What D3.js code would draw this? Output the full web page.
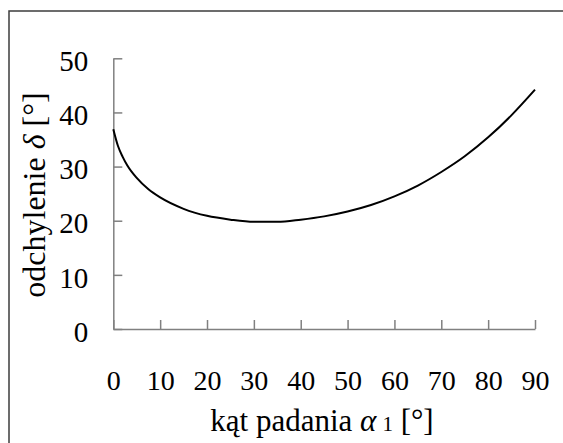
<!DOCTYPE html>
<html>
<head>
<meta charset="utf-8">
<script src="https://cdn.jsdelivr.net/npm/d3@7"></script>
<style>
  body { margin: 0; background: #fff; }
  svg { display: block; }
</style>
</head>
<body>
<svg id="chart" width="563" height="443"></svg>
<script>
// Kąt padania (deg) and odchylenie (deg)
const alpha = [0, 1, 2, 3, 5, 7.5, 10, 15, 20, 25, 30, 35, 40, 45, 50, 55, 60, 65, 70, 75, 80, 85, 90];
const delta = [36.9, 33.8, 31.8, 30.2, 27.9, 25.8, 24.3, 22.2, 20.9, 20.2, 19.8, 19.8, 20.2, 20.8, 21.7, 22.9, 24.5, 26.5, 29.0, 31.9, 35.4, 39.5, 44.2];

const xTicks = [0, 10, 20, 30, 40, 50, 60, 70, 80, 90];
const yTicks = [0, 10, 20, 30, 40, 50];

const svg = d3.select("#chart");
const font = '"Liberation Serif", serif';
const axisColor = "#808080";

// Outer frame (only top and left edges fall inside the picture)
svg.append("rect")
  .attr("x", 9)
  .attr("y", 11)
  .attr("width", 600)
  .attr("height", 500)
  .attr("fill", "none")
  .attr("stroke", "#3c3c3c")
  .attr("stroke-width", 1.5);

const x = d3.scaleLinear()
  .domain([0, 90])
  .range([113.3, 535]);

const y = d3.scaleLinear()
  .domain([0, 50])
  .range([329, 58.3]);

// Y axis, ticks point inwards
const yAxis = svg.append("g")
  .attr("transform", `translate(${x(0)}, 0)`)
  .call(d3.axisLeft(y).tickValues(yTicks).tickSize(-9).tickSizeOuter(0).tickPadding(25));

// X axis, ticks point upwards
const xAxis = svg.append("g")
  .attr("transform", `translate(0, ${y(0)})`)
  .call(d3.axisBottom(x).tickValues(xTicks).tickSize(-9).tickSizeOuter(0).tickPadding(41));

[xAxis, yAxis].forEach(g => {
  g.attr("font-family", "Liberation Serif");
  g.selectAll("path.domain, line")
    .attr("stroke", axisColor)
    .attr("stroke-width", 1.5);
  g.selectAll("text")
    .attr("fill", "#000")
    .style("font-family", font);
});

yAxis.selectAll("text")
  .attr("font-size", 29)
  .attr("dy", "0.42em");

xAxis.selectAll("text")
  .attr("font-size", 28)
  .attr("dy", "0.71em");

// The curve
const line = d3.line()
  .x((d, i) => x(alpha[i]))
  .y(d => y(d))
  .curve(d3.curveMonotoneX);

svg.append("path")
  .datum(delta)
  .attr("d", line)
  .attr("fill", "none")
  .attr("stroke", "#000")
  .attr("stroke-width", 2);

// Axis titles
const xTitle = svg.append("text")
  .attr("x", 322)
  .attr("y", 431)
  .attr("text-anchor", "middle")
  .attr("font-size", 31)
  .style("font-family", font);
xTitle.append("tspan").text("kąt padania ");
xTitle.append("tspan").attr("font-style", "italic").text("α");
xTitle.append("tspan").attr("font-size", 21).attr("dx", 6).text("1");
xTitle.append("tspan").text(" [°]");

const yTitle = svg.append("text")
  .attr("transform", "translate(45, 195) rotate(-90)")
  .attr("text-anchor", "middle")
  .attr("font-size", 32)
  .style("font-family", font);
yTitle.append("tspan").text("odchylenie ");
yTitle.append("tspan").attr("font-style", "italic").text("δ");
yTitle.append("tspan").text(" [°]");
</script>
</body>
</html>
